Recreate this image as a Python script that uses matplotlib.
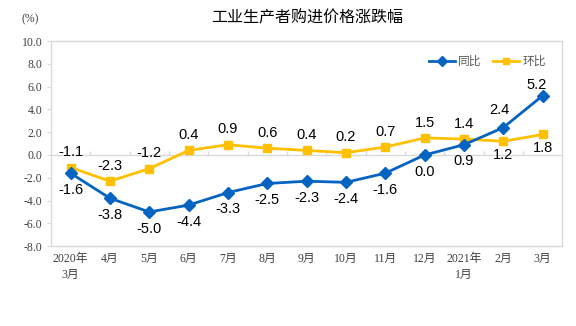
import numpy as np
import matplotlib.pyplot as plt

categories = ["2020年\n3月", "4月", "5月", "6月", "7月", "8月", "9月", "10月",
              "11月", "12月", "2021年\n1月", "2月", "3月"]
yoy = [-1.6, -3.8, -5.0, -4.4, -3.3, -2.5, -2.3, -2.4, -1.6, 0.0, 0.9, 2.4, 5.2]
mom = [-1.1, -2.3, -1.2, 0.4, 0.9, 0.6, 0.4, 0.2, 0.7, 1.5, 1.4, 1.2, 1.8]

blue = "#0563C1"
yellow = "#FFC000"
grey = "#D9D9D9"
num_font = ["Liberation Sans", "Noto Sans CJK SC"]
tick_font = ["Liberation Serif", "Noto Sans CJK SC"]

fig = plt.figure(figsize=(5.76, 3.26), dpi=100)
ax = fig.add_axes([0.0885, 0.245, 0.8875, 0.629])

x = np.arange(len(categories))
ax.axhline(0, color=grey, lw=1, zorder=1)
ax.vlines(np.arange(0.5, len(categories) - 1, 1), 0, 0.35, color=grey, lw=1, zorder=1)

ax.plot(x, yoy, color=blue, lw=2, marker="D", ms=6, label="同比", zorder=3)
ax.plot(x, mom, color=yellow, lw=2, marker="s", ms=6, label="环比", zorder=2)

# label offsets (points): most 同比 below, most 环比 above
for i in x:
    dx, dy = 0, -12
    if i == 11:
        dx, dy = -3, 13
    elif i == 12:
        dx, dy = -4, 8
    ax.annotate("%.1f" % yoy[i], (i, yoy[i]), xytext=(dx, dy), textcoords="offset points",
                ha="center", va="center", fontsize=10.5, family=num_font, color="#000000")
    dy = 11 if i < 11 else -10
    ax.annotate("%.1f" % mom[i], (i, mom[i]), xytext=(0, dy), textcoords="offset points",
                ha="center", va="center", fontsize=10.5, family=num_font, color="#000000")

ax.set_xlim(-0.5, len(categories) - 0.5)
ax.set_ylim(-8, 10)
ax.set_yticks(np.arange(-8, 10.1, 2))
ax.set_yticklabels(["%.1f" % v for v in np.arange(-8, 10.1, 2)], family=tick_font,
                   fontsize=8.5, color="#404040")
ax.set_xticks(x)
ax.set_xticklabels(categories, family=tick_font, fontsize=8.5, color="#404040",
                   linespacing=1.45)
ax.tick_params(axis="x", length=0, pad=5)
ax.tick_params(axis="y", length=3, color=grey, pad=3)
for s in ax.spines.values():
    s.set_color(grey)
    s.set_linewidth(1)

ax.legend(loc="upper right", ncol=2, frameon=False, prop={"family": num_font, "size": 8.5},
          handlelength=2.2, columnspacing=1.0, handletextpad=0.3, markerscale=0.8,
          bbox_to_anchor=(0.99, 0.98), labelcolor="#595959")

fig.text(0.533, 0.945, "工业生产者购进价格涨跌幅", ha="center", va="center", fontsize=11.5,
         family=["Noto Sans CJK SC"], color="#000000")
fig.text(0.053, 0.94, "(%)", ha="center", va="center", fontsize=8.5, family=tick_font,
         color="#404040")

fig.savefig("out.png", dpi=100)
